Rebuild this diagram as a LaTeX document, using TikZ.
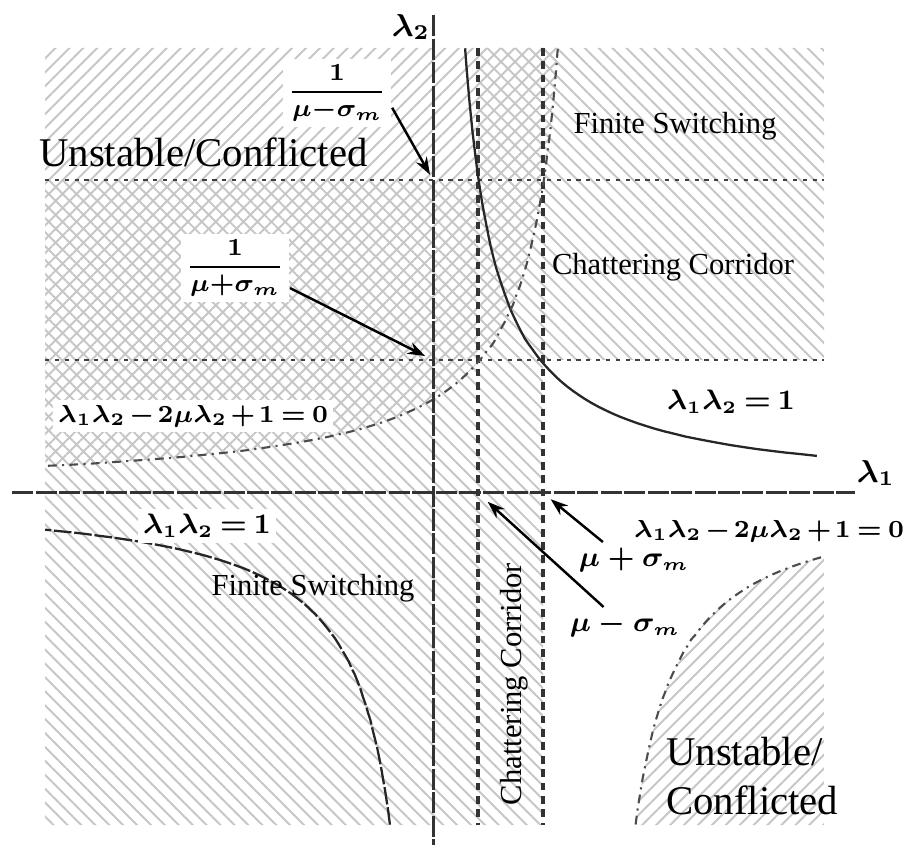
\documentclass[tikz,border=0pt]{standalone}
\usepackage{fontspec}
\setmainfont{Liberation Serif}
\usetikzlibrary{arrows.meta,patterns.meta}
\tikzset{
  hatchup/.style={pattern={Lines[angle=45,distance=2.8pt,line width=0.55pt]}, pattern color=gray!45},
  hatchdown/.style={pattern={Lines[angle=-45,distance=2.8pt,line width=0.55pt]}, pattern color=gray!45},
  axisline/.style={line width=0.85pt, black!80, dash pattern=on 6pt off 0.7pt},
  gridline/.style={line width=0.55pt, black!75, dash pattern=on 1.2pt off 1.6pt},
  corridor/.style={line width=0.95pt, black!80, dash pattern=on 2.2pt off 1.6pt},
  hyper/.style={line width=0.65pt, black!85},
  hyperdash/.style={line width=0.65pt, black!85, dash pattern=on 5pt off 0.8pt},
  cusp/.style={line width=0.6pt, black!70, dash pattern=on 2.5pt off 1.5pt on 0.6pt off 1.5pt},
  regionlbl/.style={font=\fontsize{8.7}{10}\selectfont, inner sep=1pt},
  biglbl/.style={font=\fontsize{11.6}{13.9}\selectfont, inner sep=1pt},
  eqlbl/.style={font=\fontsize{7.6}{9}\selectfont\boldmath, inner sep=1.5pt},
  longeq/.style={eqlbl, font=\fontsize{7}{9}\selectfont\boldmath},
  fraclbl/.style={eqlbl, font=\fontsize{7}{8.5}\selectfont\boldmath},
  axislbl/.style={eqlbl, font=\fontsize{9}{10}\selectfont\boldmath},
  whitebox/.style={fill=white},
  pointer/.style={-{Stealth[length=5pt,width=3.5pt]}, line width=0.7pt},
}
\newcommand{\labelarrow}[3]{\draw[pointer, shorten >=#3] (#1) -- (#2);}
\newcommand{\tightmath}{\medmuskip=2mu\relax\thickmuskip=3.5mu\relax}

\begin{document}
\begin{tikzpicture}[x=0.1mm, y=-0.1mm]
  \useasboundingbox (0,0) rectangle (912,855);

  % hatched regions
  \fill[hatchdown] (45,180) -- (478,180) -- (478,48) -- (824,48) -- (824,360)
    -- (543,360) -- (543,825) -- (45,825) -- cycle;
  \fill[hatchup] (45,48) -- (557.7,48)
    -- plot[domain=3.505:6.303, samples=60] ({591-exp(\x)}, {493-14800*exp(-\x)}) -- cycle;
  \fill[hatchup] (635.6,825)
    -- plot[domain=3.798:5.451, samples=50] ({591+exp(\x)}, {493+14800*exp(-\x)})
    -- (824,825) -- cycle;

  % bounds
  \draw[gridline] (45,180) -- (824,180);
  \draw[gridline] (45,360) -- (824,360);
  \draw[corridor] (478,48) -- (478,825);
  \draw[corridor] (543,48) -- (543,825);

  % curves
  \draw[hyper] plot[domain=3.469:5.951, samples=60] ({433+exp(\x)}, {493-14300*exp(-\x)});
  \draw[hyperdash] plot[domain=3.763:5.961, samples=60] ({433-exp(\x)}, {493+14300*exp(-\x)});
  \draw[cusp] plot[domain=3.505:6.303, samples=60] ({591-exp(\x)}, {493-14800*exp(-\x)});
  \draw[cusp] plot[domain=3.798:5.451, samples=50] ({591+exp(\x)}, {493+14800*exp(-\x)});

  % axes
  \draw[axisline] (433,15) -- (433,845);
  \draw[axisline] (12,493) -- (855,493);
  \node[axislbl] (lamtwo) at (411,27) {$\lambda_2$};
  \node[axislbl] (lamone) at (876,473) {$\lambda_1$};

  \coordinate (upcross) at (433,180);
  \coordinate (lowcross) at (433,360);
  \coordinate (minuscross) at (478,493);
  \coordinate (pluscross) at (543,493);

  % labels
  \node[biglbl, anchor=west] (unstabletop) at (35,152) {Unstable/Conflicted};
  \node[fraclbl, whitebox] (fracminus) at (337,93)
    {$\displaystyle\frac{1}{\mu{-}\sigma_m}$};
  \node[fraclbl, whitebox] (fracplus) at (235,268)
    {$\displaystyle\frac{1}{\mu{+}\sigma_m}$};
  \node[longeq, whitebox] (eqleft) at (193,416) {$\tightmath\lambda_1\lambda_2-2\mu\lambda_2+1=0$};
  \node[regionlbl] (finitetop) at (675,126) {Finite Switching};
  \node[regionlbl] (chattertop) at (673,267) {Chattering Corridor};
  \node[eqlbl] (hypright) at (731,402) {$\tightmath\lambda_1\lambda_2 = 1$};
  \node[eqlbl, whitebox] (hypleft) at (207,526) {$\tightmath\lambda_1\lambda_2 = 1$};
  \node[regionlbl] (finitelow) at (313,588) {Finite Switching};
  \node[regionlbl, rotate=90] (chatterlow) at (514,684) {Chattering Corridor};
  \node[longeq, whitebox, anchor=east] (eqright) at (910,531) {$\tightmath\lambda_1\lambda_2-2\mu\lambda_2+1=0$};
  \node[eqlbl] (musigplus) at (634,560) {$\mu+\sigma_m$};
  \node[eqlbl] (musigminus) at (625,625) {$\mu-\sigma_m$};
  \node[biglbl, anchor=west, align=left] (unstablelow) at (662,776) {Unstable/\\Conflicted};

  % pointers
  \labelarrow{fracminus.-15}{upcross}{1.7pt}
  \labelarrow{fracplus.-20}{lowcross}{2.5pt}
  \labelarrow{musigplus.150}{pluscross}{2.8pt}
  \labelarrow{musigminus.140}{minuscross}{3.7pt}

\end{tikzpicture}
\end{document}
